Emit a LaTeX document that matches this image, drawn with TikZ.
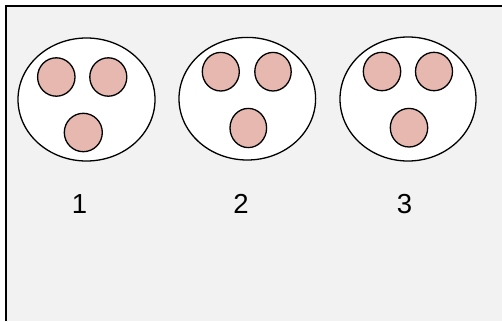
\documentclass[tikz,border=0pt]{standalone}
\usepackage{fontspec}
\setmainfont{Liberation Sans}
\definecolor{bggray}{HTML}{F2F2F2}
\definecolor{dotfill}{HTML}{E6B8AF}
\begin{document}
\begin{tikzpicture}[x=1pt,y=-1pt,
  cell/.style={draw=black,line width=1.3pt,fill=white},
  dot/.style={draw=black,line width=1.3pt,fill=dotfill},
  lbl/.style={font=\fontsize{27.5}{30}\selectfont,inner sep=0pt}]
\useasboundingbox (0,0) rectangle (502,321);
\fill[white] (0,0) rectangle (502,321);
\fill[bggray] (6,6) rectangle (502,321);
\draw[line width=2pt] (6,321) -- (6,6) -- (502,6);
% ellipse 1
\draw[cell] (86.5,99.5) ellipse [x radius=68.5,y radius=61.5];
\draw[dot] (56.3,77) ellipse [x radius=18.7,y radius=19.2];
\draw[dot] (108.3,77) ellipse [x radius=18.5,y radius=19.2];
\draw[dot] (83.3,132.5) ellipse [x radius=19,y radius=19.2];
% ellipse 2
\draw[cell] (247.3,98.7) ellipse [x radius=68.3,y radius=61.3];
\draw[dot] (220.8,71.7) ellipse [x radius=18.5,y radius=19.3];
\draw[dot] (273,71.7) ellipse [x radius=18.2,y radius=19.3];
\draw[dot] (248.3,128) ellipse [x radius=18.3,y radius=19.6];
% ellipse 3
\draw[cell] (408,99) ellipse [x radius=68,y radius=62];
\draw[dot] (382,71.5) ellipse [x radius=18.7,y radius=19.2];
\draw[dot] (434,71.5) ellipse [x radius=18.5,y radius=19.2];
\draw[dot] (409,127.7) ellipse [x radius=18.7,y radius=19.3];
% labels
\node[lbl] (l1) at (79.5,204) {1};
\node[lbl] (l2) at (241,204) {2};
\node[lbl] (l3) at (404.5,204) {3};
\end{tikzpicture}
\end{document}
